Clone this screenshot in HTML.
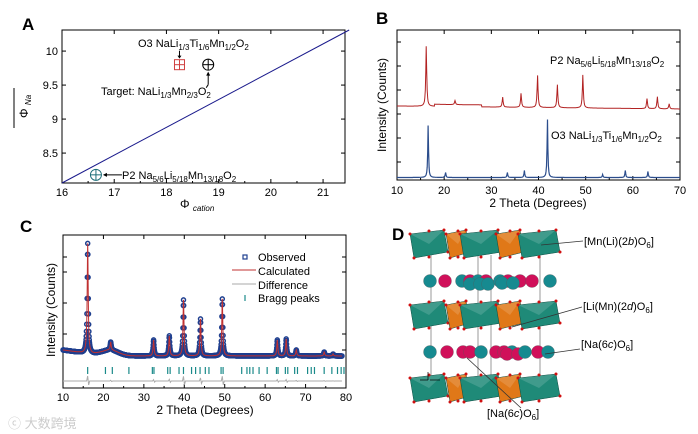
<!DOCTYPE html>
<html><head><meta charset="utf-8"><style>
html,body{margin:0;padding:0;background:#fff}
svg{display:block;font-family:"Liberation Sans",sans-serif}
</style></head><body>
<svg id="fig" width="698" height="434" viewBox="0 0 698 434">
<text x="22" y="30" font-size="17" font-weight="bold">A</text>
<text x="376" y="24" font-size="17" font-weight="bold">B</text>
<text x="20" y="232" font-size="17" font-weight="bold">C</text>
<text x="392" y="240" font-size="17" font-weight="bold">D</text>
<g id="pa"></g>
<g id="pb"></g>
<g id="pc"></g>
<g id="pd"></g>
<g><text x="8" y="428" font-size="13" fill="#ccc" font-family="'Liberation Sans','Noto Sans CJK SC',sans-serif">ⓒ 大数跨境</text></g>
</svg>
<script>
var NS="http://www.w3.org/2000/svg";
function mk(p,t,a,txt){var e=document.createElementNS(NS,t);for(var k in a)e.setAttribute(k,a[k]);if(txt!=null)e.textContent=txt;p.appendChild(e);return e;}
function rich(p,X,Y,parts,size,extra){
  var a={x:X,y:Y,'font-size':size||11};if(extra)for(var k in extra)a[k]=extra[k];
  var t=mk(p,'text',a);var down=false;
  parts.forEach(function(q){
    var s=mk(t,'tspan',{});s.textContent=q[0];
    if(q[1]=='s'){s.setAttribute('font-size',8);if(!down){s.setAttribute('dy',3);down=true;}}
    else{ if(down){s.setAttribute('dy',-3);down=false;} if(q[1]=='i')s.setAttribute('font-style','italic');}
  });
  return t;
}

// ---------- Panel A data ----------
var aXTicks=[16,17,18,19,20,21];
var aYTicks=[8.5,9,9.5,10];
var aLineX=[16,21.5];
var aLineY=[8.06,10.31];
var aPointX=[18.25,18.8,16.65];
var aPointY=[9.8,9.8,8.18];
// ---------- Panel B data ----------
var bXTicks=[10,20,30,40,50,60,70];
var bRedPos=[16.2,22.3,32.4,36.3,39.8,44.0,49.4,63.0,65.2,67.7];
var bRedHt=[60,4,10,14,32,23,33,10,12,5];
var bBluePos=[16.6,20.3,33.4,37.0,41.9,53.6,58.4,63.2];
var bBlueHt=[52,5,5,7,58,3,7,6];
// ---------- Panel C data ----------
var cXTicks=[10,20,30,40,50,60,70,80];
var cPeakPos=[16.1,21.8,32.4,36.3,39.8,44.0,49.4,63.0,65.2,67.7,74.6,76.8];
var cPeakHt=[110,8,16,20,56,37,57,16,17,6,4,2];
var cBragg=[16.1,20.5,22.2,26.3,32.1,32.5,35.9,36.5,38.7,39.8,41.8,42.8,43.9,45.2,46.1,49.1,49.6,54.2,55.5,56.2,57.0,58.5,60.5,62.8,63.2,65.0,65.6,67.3,68.0,70.5,71.4,72.2,74.6,76.5,77.9,78.8,79.5];

function prof(pos,ht,w,x0,x1,bg,st){var pts=[];st=st||0.1;for(var v=x0;v<=x1+1e-9;v+=st){var s=bg(v);for(var i=0;i<pos.length;i++){var d=(v-pos[i])/w;s+=ht[i]/(1+d*d);}pts.push([v,s]);}return pts;}
function nm(e,n){return e;}

// ===== Panel A =====
try{(function(){
 var g=document.getElementById('pa');
 var L=62,R=345,T=30,B=183;
 var x=function(v){return L+(v-16)*(R-L)/5.42;}, y=function(v){return B-(v-8.06)*(B-T)/2.25;};
 nm(mk(g,'rect',{x:L,y:T,width:R-L,height:B-T,fill:'none',stroke:'#000','stroke-width':1}),'plot-frame-a');
 aXTicks.forEach(function(v){mk(g,'line',{x1:x(v),x2:x(v),y1:B,y2:B-4,stroke:'#000'});mk(g,'line',{x1:x(v),x2:x(v),y1:T,y2:T+4,stroke:'#000'});
  var t=mk(g,'text',{x:x(v),y:B+13,'font-size':11,'text-anchor':'middle'},String(v));nm(t,'x-tick-label-a');
  if(v<21){mk(g,'line',{x1:x(v+.5),x2:x(v+.5),y1:B,y2:B-2,stroke:'#000'});}});
 aYTicks.forEach(function(v){mk(g,'line',{x1:L,x2:L+4,y1:y(v),y2:y(v),stroke:'#000'});mk(g,'line',{x1:R,x2:R-4,y1:y(v),y2:y(v),stroke:'#000'});
  var t=mk(g,'text',{x:L-4,y:y(v)+4,'font-size':11,'text-anchor':'end'},String(v));nm(t,'y-tick-label-a');});
 var ln=mk(g,'line',{x1:x(aLineX[0]),y1:y(aLineY[0]),x2:x(aLineX[1]),y2:y(aLineY[1]),stroke:'#1a1a8c','stroke-width':1});
 nm(ln,'boundary-line');
 var px=x(aPointX[0]),py=y(aPointY[0]);
 var sq=nm(mk(g,'g',{}),'o3-point');
 mk(sq,'rect',{x:px-5,y:py-5,width:10,height:10,fill:'none',stroke:'#d04040'});mk(sq,'line',{x1:px-5,x2:px+5,y1:py,y2:py,stroke:'#d04040'});mk(sq,'line',{x1:px,x2:px,y1:py-5,y2:py+5,stroke:'#d04040'});
 mk(g,'line',{x1:px,x2:px,y1:py-14,y2:py-7,stroke:'#000'});mk(g,'path',{d:'M'+(px-2)+','+(py-9)+' L'+(px+2)+','+(py-9)+' L'+px+','+(py-6)+'Z'});
 var c1=['#000','#1e6e78'];
 [1,2].forEach(function(i,k){var cx=x(aPointX[i]),cy=y(aPointY[i]);var gg=nm(mk(g,'g',{}),i==1?'target-point':'p2-point');
  mk(gg,'circle',{cx:cx,cy:cy,r:5.5,fill:'none',stroke:c1[k]});mk(gg,'line',{x1:cx-5.5,x2:cx+5.5,y1:cy,y2:cy,stroke:c1[k]});mk(gg,'line',{x1:cx,x2:cx,y1:cy-5.5,y2:cy+5.5,stroke:c1[k]});});
 var tx=x(aPointX[1]),ty=y(aPointY[1]);
 mk(g,'line',{x1:tx,x2:tx,y1:ty+9,y2:ty+20,stroke:'#000'});mk(g,'line',{x1:tx,x2:tx-2,y1:ty+20,y2:ty+23,stroke:'#000'});mk(g,'path',{d:'M'+(tx-2)+','+(ty+11)+' L'+(tx+2)+','+(ty+11)+' L'+tx+','+(ty+7)+'Z'});
 var qx=x(aPointX[2]),qy=y(aPointY[2]);
 mk(g,'line',{x1:qx+8,x2:qx+26,y1:qy,y2:qy,stroke:'#000'});mk(g,'path',{d:'M'+(qx+11)+','+(qy-2)+' L'+(qx+11)+','+(qy+2)+' L'+(qx+7)+','+qy+'Z'});
 nm(rich(g,138,47,[['O3 NaLi',''],['1/3','s'],['Ti',''],['1/6','s'],['Mn',''],['1/2','s'],['O',''],['2','s']]),'o3-annotation');
 nm(rich(g,101,95,[['Target: NaLi',''],['1/3','s'],['Mn',''],['2/3','s'],['O',''],['2','s']]),'target-annotation');
 nm(rich(g,122,179,[['P2 Na',''],['5/6','s'],['Li',''],['5/18','s'],['Mn',''],['13/18','s'],['O',''],['2','s']]),'p2-annotation');
 var xt=rich(g,180,208,[['Φ ',''],['cation','s']],12);xt.lastChild.setAttribute('font-style','italic');nm(xt,'x-axis-title-a');
 var yt=rich(g,0,0,[['Φ ',''],['Na','s']],12,{transform:'translate(28,118) rotate(-90)'});yt.lastChild.setAttribute('font-style','italic');nm(yt,'y-axis-title-a');
 mk(g,'line',{x1:14,x2:14,y1:88,y2:128,stroke:'#000'});
})();}catch(e){}

// ===== Panel B =====
try{(function(){
 var g=document.getElementById('pb');
 var L=397,R=680,T=30,B=180;
 var x=function(v){return L+(v-10)*(R-L)/60;};
 nm(mk(g,'rect',{x:L,y:T,width:R-L,height:B-T,fill:'none',stroke:'#000'}),'plot-frame-b');
 bXTicks.forEach(function(v){mk(g,'line',{x1:x(v),x2:x(v),y1:B,y2:B-4,stroke:'#000'});mk(g,'line',{x1:x(v),x2:x(v),y1:T,y2:T+4,stroke:'#000'});
  var t=mk(g,'text',{x:x(v),y:B+14,'font-size':11,'text-anchor':'middle'},String(v));nm(t,'x-tick-label-b');
  if(v<70)mk(g,'line',{x1:x(v+5),x2:x(v+5),y1:B,y2:B-2,stroke:'#000'});});
 for(var yy=T+12;yy<B;yy+=24){mk(g,'line',{x1:L,x2:L+4,y1:yy,y2:yy,stroke:'#000'});mk(g,'line',{x1:R,x2:R-4,y1:yy,y2:yy,stroke:'#000'});}
 var red=prof(bRedPos,bRedHt,0.12,10,70,function(v){return 3+(v>18&&v<28?2:0)-(v-10)*0.05;});
 var blue=prof(bBluePos,bBlueHt,0.1,10,70,function(v){return 1.5;});
 nm(mk(g,'path',{d:'M'+red.map(function(p){return x(p[0]).toFixed(1)+','+(109-p[1]).toFixed(1);}).join('L'),fill:'none',stroke:'#b22222','stroke-width':1}),'p2-pattern');
 nm(mk(g,'path',{d:'M'+blue.map(function(p){return x(p[0]).toFixed(1)+','+(179-p[1]).toFixed(1);}).join('L'),fill:'none',stroke:'#2b4d8c','stroke-width':1.2}),'o3-pattern');
 nm(rich(g,550,64,[['P2 Na',''],['5/6','s'],['Li',''],['5/18','s'],['Mn',''],['13/18','s'],['O',''],['2','s']]),'p2-label');
 nm(rich(g,551,139,[['O3 NaLi',''],['1/3','s'],['Ti',''],['1/6','s'],['Mn',''],['1/2','s'],['O',''],['2','s']]),'o3-label');
 nm(mk(g,'text',{x:538,y:207,'font-size':12,'text-anchor':'middle'},'2 Theta (Degrees)'),'x-axis-title-b');
 nm(mk(g,'text',{transform:'translate(386,105) rotate(-90)','font-size':12,'text-anchor':'middle'},'Intensity (Counts)'),'y-axis-title-b');
})();}catch(e){}

// ===== Panel C =====
try{(function(){
 var g=document.getElementById('pc');
 var L=63,R=346,T=235,B=388;
 var x=function(v){return L+(v-10)*(R-L)/70;};
 nm(mk(g,'rect',{x:L,y:T,width:R-L,height:B-T,fill:'none',stroke:'#000'}),'plot-frame-c');
 cXTicks.forEach(function(v){mk(g,'line',{x1:x(v),x2:x(v),y1:B,y2:B-4,stroke:'#000'});mk(g,'line',{x1:x(v),x2:x(v),y1:T,y2:T+4,stroke:'#000'});
  var t=mk(g,'text',{x:x(v),y:B+13,'font-size':11,'text-anchor':'middle'},String(v));nm(t,'x-tick-label-c');
  if(v<80)mk(g,'line',{x1:x(v+5),x2:x(v+5),y1:B,y2:B-2,stroke:'#000'});});
 [257,272,303,334,350].forEach(function(yy){mk(g,'line',{x1:L,x2:L+4,y1:yy,y2:yy,stroke:'#000'});mk(g,'line',{x1:R,x2:R-4,y1:yy,y2:yy,stroke:'#000'});});
 var bg=function(v){var b=2+Math.max(0,(20-v))*0.6;b+=6*Math.exp(-Math.pow((v-21.5)/3,2));return b;};
 var pts=prof(cPeakPos,cPeakHt,0.15,10,79,bg,0.05);
 var obs=nm(mk(g,'g',{}),'observed-points');
 pts.forEach(function(p){mk(obs,'circle',{cx:x(p[0]).toFixed(1),cy:(358-p[1]).toFixed(1),r:2,fill:'none',stroke:'#1f3f8f','stroke-width':1.5});});
 nm(mk(g,'path',{d:'M'+pts.map(function(p){return x(p[0]).toFixed(1)+','+(358-p[1]).toFixed(1);}).join('L'),fill:'none',stroke:'#c03030','stroke-width':1}),'calculated-line');
 var bt=nm(mk(g,'g',{}),'bragg-ticks');
 cBragg.forEach(function(v){mk(bt,'line',{x1:x(v),x2:x(v),y1:367,y2:374,stroke:'#1a8a8a','stroke-width':1.2});});
 var dd='M'+x(10)+',381';cPeakPos.forEach(function(v,i){dd+='L'+(x(v)-1)+',381L'+x(v)+','+(381-Math.min(5,cPeakHt[i]/12))+'L'+(x(v)+1)+','+(381+Math.min(4,cPeakHt[i]/15))+'L'+(x(v)+2)+',381';});dd+='L'+x(79)+',381';
 nm(mk(g,'path',{d:dd,fill:'none',stroke:'#aaa','stroke-width':1}),'difference-line');
 var lg=nm(mk(g,'g',{}),'legend');
 mk(lg,'rect',{x:243,y:255,width:4,height:4,fill:'none',stroke:'#1f3f8f','stroke-width':1.2});
 mk(lg,'line',{x1:232,x2:256,y1:270,y2:270,stroke:'#c03030'});
 mk(lg,'line',{x1:232,x2:256,y1:284,y2:284,stroke:'#aaa'});
 mk(lg,'line',{x1:245,x2:245,y1:295,y2:301,stroke:'#1a8a8a','stroke-width':1.2});
 [['Observed',261],['Calculated',275],['Difference',289],['Bragg peaks',302]].forEach(function(a){nm(mk(lg,'text',{x:258,y:a[1],'font-size':11},a[0]),'legend-entry');});
 nm(mk(g,'text',{x:205,y:414,'font-size':12,'text-anchor':'middle'},'2 Theta (Degrees)'),'x-axis-title-c');
 nm(mk(g,'text',{transform:'translate(55,310) rotate(-90)','font-size':12,'text-anchor':'middle'},'Intensity (Counts)'),'y-axis-title-c');
})();}catch(e){}

// ===== Panel D =====
try{(function(){
 var g=document.getElementById('pd');
 [431,478,491,540].forEach(function(xx){mk(g,'line',{x1:xx,x2:xx,y1:255,y2:380,stroke:'#bbb','stroke-width':1.5});});
 function layer(y0,n){
  var lg=nm(mk(g,'g',{}),n);
  var blocks=[[410,448,'#1f8a78'],[446,470,'#e07818'],[460,502,'#1f8a78'],[496,524,'#e07818'],[518,560,'#1f8a78']];
  blocks.forEach(function(b){var m=(b[0]+b[1])/2;
   mk(lg,'polygon',{points:b[0]+','+(y0+4)+' '+(b[1]-4)+','+y0+' '+b[1]+','+(y0+22)+' '+(b[0]+4)+','+(y0+28),fill:b[2],stroke:'#0d4a40','stroke-width':0.5});
   mk(lg,'polygon',{points:b[0]+','+(y0+4)+' '+(b[1]-4)+','+y0+' '+m+','+(y0+14),fill:'#fff','fill-opacity':0.15});
   [[b[0],y0+4],[b[1]-4,y0],[b[1],y0+22],[b[0]+4,y0+28],[m,y0+1],[m,y0+27]].forEach(function(p){mk(lg,'circle',{cx:p[0],cy:p[1],r:1.5,fill:'#d01010'});});});
 }
 layer(230,'mn-li-layer-top');layer(301,'li-mn-layer-middle');layer(374,'mn-li-layer-bottom');
 function spheres(yy,cols,n){var sg=nm(mk(g,'g',{}),n);
  cols.forEach(function(c){mk(sg,'circle',{cx:c[0],cy:yy+(c[2]||0),r:6.5,fill:c[1]=='t'?'#168a90':'#d0105a',stroke:'#555','stroke-width':0.3});});}
 spheres(281,[[430,'t'],[445,'m'],[462,'t'],[470,'m'],[478,'t'],[486,'m'],[470,'t',3],[480,'t',3],[488,'t',3],[500,'t'],[508,'m'],[520,'m'],[502,'t',2],[513,'t',2],[532,'m'],[550,'t']],'sodium-row-upper');
 spheres(352,[[430,'t'],[447,'m'],[463,'m'],[470,'m'],[481,'t'],[496,'m'],[504,'m'],[512,'t'],[507,'m',2],[518,'m',2],[525,'t'],[538,'m'],[548,'t']],'sodium-row-lower');
 mk(g,'line',{x1:430,x2:440,y1:380,y2:380,stroke:'#000','stroke-width':0.7});mk(g,'line',{x1:428,x2:420,y1:380,y2:380,stroke:'#000','stroke-width':0.7});mk(g,'line',{x1:428,x2:428,y1:380,y2:372,stroke:'#000','stroke-width':0.7});
 function Ln(x1,y1,x2,y2){mk(g,'line',{x1:x1,y1:y1,x2:x2,y2:y2,stroke:'#333','stroke-width':0.8});}
 Ln(541,245,583,241);Ln(512,327,582,307);Ln(545,354,580,349);Ln(467,358,521,408);
 var t1=rich(g,584,245,[['[Mn(Li)(2',''],['b','i'],[')O',''],['6','s'],[']','']]);nm(t1,'label-mn-li-2b');
 var t2=rich(g,583,310,[['[Li(Mn)(2',''],['d','i'],[')O',''],['6','s'],[']','']]);nm(t2,'label-li-mn-2d');
 var t3=rich(g,581,348,[['[Na(6',''],['c','i'],[')O',''],['6','s'],[']','']]);nm(t3,'label-na-6c-right');
 var t4=rich(g,487,417,[['[Na(6',''],['c','i'],[')O',''],['6','s'],[']','']]);nm(t4,'label-na-6c-bottom');
})();}catch(e){}
</script>
</body></html>
